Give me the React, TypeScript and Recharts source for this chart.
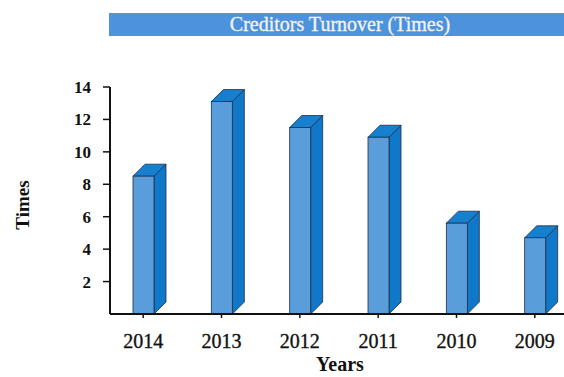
import React from "react";
import { BarChart, Bar, XAxis, YAxis } from "recharts";

const years = ["2014", "2013", "2012", "2011", "2010", "2009"];
const turnover = [8.5, 13.1, 11.5, 10.9, 5.6, 4.7];
const yTicks = [2, 4, 6, 8, 10, 12, 14];

const data = years.map((y, i) => ({ year: y, value: turnover[i] }));

const FONT = '"Liberation Serif", "Times New Roman", serif';
const DEPTH = 12;

const Bar3D = (props: any) => {
  const { x, y, width, height } = props;
  if (height <= 0) return null;
  const d = DEPTH;
  const stroke = "#1c2f4d";
  return (
    <g>
      <polygon
        points={`${x + width},${y} ${x + width + d},${y - d} ${x + width + d},${y + height - d} ${x + width},${y + height}`}
        fill="#0f78c8"
        stroke={stroke}
        strokeWidth={0.8}
      />
      <polygon
        points={`${x},${y} ${x + d},${y - d} ${x + width + d},${y - d} ${x + width},${y}`}
        fill="#1680cf"
        stroke={stroke}
        strokeWidth={0.8}
      />
      <rect x={x} y={y} width={width} height={height} fill="#5a9ddb" stroke={stroke} strokeWidth={0.8} />
    </g>
  );
};

const YLabel = () => (
  <text
    x={22}
    y={205}
    transform="rotate(-90 22 205)"
    textAnchor="middle"
    dominantBaseline="central"
    fontFamily={FONT}
    fontWeight="bold"
    fontSize={19}
    fill="#111"
  >
    Times
  </text>
);

const XLabel = () => (
  <text x={340} y={371} textAnchor="middle" fontFamily={FONT} fontWeight="bold" fontSize={20} fill="#111">
    Years
  </text>
);

export default function App() {
  return (
    <div style={{ position: "absolute", left: 0, top: 0, width: 564, height: 377, overflow: "hidden", background: "#fff" }}>
      <div
        style={{
          position: "absolute",
          left: 109,
          top: 13,
          width: 470,
          height: 23,
          background: "#4d92dd",
          color: "#f4f4f4",
          fontFamily: FONT,
          fontSize: 20,
          lineHeight: "23px",
          WebkitTextStroke: "0.3px #f4f4f4",
        }}
      >
        <span style={{ position: "absolute", left: 0, width: 462, textAlign: "center" }}>Creditors Turnover (Times)</span>
      </div>
      <BarChart
        width={600}
        height={377}
        data={data}
        margin={{ top: 87, right: 26, bottom: 0, left: 40 }}
        style={{ position: "absolute", left: 0, top: 0 }}
      >
        <XAxis
          dataKey="year"
          height={63}
          padding={{ left: -6, right: 0 }}
          axisLine={{ stroke: "#111", strokeWidth: 2 }}
          tickLine={{ stroke: "#111", strokeWidth: 1.5 }}
          tickSize={4}
          tickMargin={16}
          tick={{ fontFamily: FONT, fontSize: 20, fill: "#111", stroke: "#111", strokeWidth: 0.35 }}
          interval={0}
          label={<XLabel />}
        />
        <YAxis
          width={70}
          domain={[0, 14]}
          ticks={yTicks}
          axisLine={{ stroke: "#111", strokeWidth: 2 }}
          tickLine={{ stroke: "#111", strokeWidth: 1.5 }}
          tickSize={7}
          tickMargin={12}
          tick={{ fontFamily: FONT, fontSize: 17, fontWeight: "bold", fill: "#111" }}
          label={<YLabel />}
        />
        <Bar dataKey="value" barSize={21} shape={<Bar3D />} isAnimationActive={false} />
      </BarChart>
    </div>
  );
}
